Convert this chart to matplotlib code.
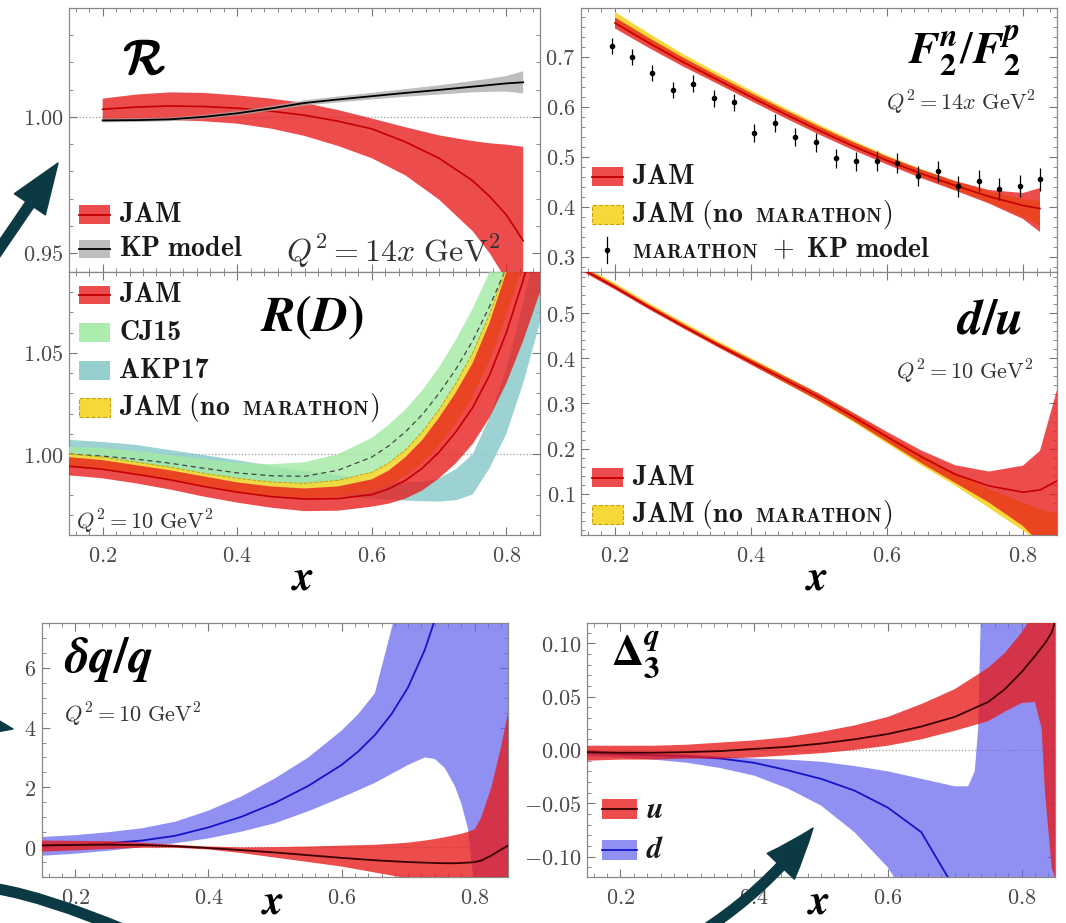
import matplotlib
matplotlib.use("Agg")
import matplotlib.pyplot as plt
import matplotlib.patheffects as pe
from matplotlib.ticker import MultipleLocator, FormatStrFormatter
from matplotlib.patches import Rectangle, FancyArrowPatch, PathPatch
from matplotlib.path import Path
from matplotlib.lines import Line2D
from matplotlib.offsetbox import AnchoredOffsetbox, HPacker, TextArea, DrawingArea

plt.rcParams["mathtext.fontset"] = "cm"
plt.rcParams["font.family"] = ["DejaVu Serif"]

# ---------------- data ----------------
# R : nuclear ratio, Q^2 = 14x GeV^2
x_R = [0.20, 0.25, 0.30, 0.35, 0.40, 0.45, 0.50, 0.55, 0.60, 0.65, 0.70, 0.75, 0.775, 0.80, 0.825]
R_jam_mid = [1.0028, 1.0036, 1.0040, 1.0038, 1.0032, 1.0021, 1.0006, 0.9984, 0.9956, 0.9908, 0.9848, 0.9765, 0.9708, 0.9640, 0.9545]
R_jam_hi = [1.0067, 1.0082, 1.0090, 1.0088, 1.0079, 1.0067, 1.0051, 1.0025, 0.9994, 0.9962, 0.9932, 0.9911, 0.9903, 0.9898, 0.9890]
R_jam_lo = [0.9982, 0.9987, 0.9988, 0.9984, 0.9975, 0.9957, 0.9930, 0.9893, 0.9848, 0.9785, 0.9696, 0.9580, 0.9500, 0.9400, 0.9250]
R_kp_mid = [0.9987, 0.9988, 0.9991, 1.0000, 1.0013, 1.0031, 1.0051, 1.0064, 1.0076, 1.0088, 1.0099, 1.0111, 1.0117, 1.0123, 1.0127]
R_kp_hi = [0.9994, 0.9995, 0.9998, 1.0007, 1.0021, 1.0040, 1.0061, 1.0075, 1.0088, 1.0102, 1.0116, 1.0132, 1.0140, 1.0150, 1.0168]
R_kp_lo = [0.9980, 0.9981, 0.9984, 0.9993, 1.0005, 1.0022, 1.0041, 1.0053, 1.0064, 1.0074, 1.0082, 1.0090, 1.0092, 1.0093, 1.0086]

# F2n / F2p, Q^2 = 14x GeV^2
x_F2 = [0.20, 0.25, 0.30, 0.35, 0.40, 0.45, 0.50, 0.55, 0.60, 0.65, 0.70, 0.75, 0.80, 0.825]
F2_jam_mid = [0.768, 0.728, 0.690, 0.655, 0.620, 0.586, 0.553, 0.522, 0.493, 0.467, 0.443, 0.421, 0.403, 0.397]
F2_jam_hi = [0.779, 0.738, 0.699, 0.663, 0.628, 0.594, 0.561, 0.530, 0.501, 0.475, 0.452, 0.434, 0.428, 0.438]
F2_jam_lo = [0.757, 0.718, 0.681, 0.647, 0.612, 0.578, 0.545, 0.514, 0.485, 0.458, 0.433, 0.407, 0.376, 0.350]
F2_nom_hi = [0.790, 0.747, 0.706, 0.669, 0.633, 0.598, 0.565, 0.533, 0.503, 0.476, 0.452, 0.431, 0.416, 0.412]
F2_nom_lo = [0.764, 0.724, 0.686, 0.651, 0.617, 0.583, 0.550, 0.519, 0.489, 0.461, 0.435, 0.409, 0.380, 0.362]
x_mar = [0.195, 0.225, 0.255, 0.285, 0.315, 0.345, 0.375, 0.405, 0.435, 0.465, 0.495,
         0.525, 0.555, 0.585, 0.615, 0.645, 0.675, 0.705, 0.735, 0.765, 0.795, 0.825]
F2_mar = [0.722, 0.700, 0.667, 0.633, 0.646, 0.617, 0.609, 0.548, 0.567, 0.540, 0.529,
          0.497, 0.491, 0.491, 0.488, 0.461, 0.471, 0.441, 0.452, 0.436, 0.441, 0.455]
F2_mar_err = [0.016, 0.016, 0.016, 0.016, 0.017, 0.017, 0.017, 0.018, 0.018, 0.018, 0.019,
              0.019, 0.019, 0.020, 0.020, 0.020, 0.021, 0.021, 0.021, 0.022, 0.022, 0.023]

# R(D), Q^2 = 10 GeV^2
x_RD = [0.15, 0.20, 0.25, 0.30, 0.35, 0.40, 0.45, 0.50, 0.55, 0.60, 0.625, 0.65, 0.675, 0.70, 0.725, 0.75, 0.775, 0.80, 0.825, 0.85]
RD_jam_mid = [0.9940, 0.9925, 0.9900, 0.9873, 0.9840, 0.9812, 0.9790, 0.9778, 0.9780, 0.9800, 0.9828, 0.9870, 0.9930, 1.0010, 1.0110, 1.0230, 1.0390, 1.0600, 1.0860, 1.1150]
RD_jam_hi = [0.9985, 0.9970, 0.9945, 0.9920, 0.9890, 0.9860, 0.9840, 0.9830, 0.9840, 0.9875, 0.9918, 0.9985, 1.0070, 1.0180, 1.0305, 1.0450, 1.0650, 1.0900, 1.1180, 1.1500]
RD_jam_lo = [0.9895, 0.9880, 0.9855, 0.9825, 0.9790, 0.9760, 0.9735, 0.9718, 0.9720, 0.9740, 0.9755, 0.9780, 0.9820, 0.9880, 0.9955, 1.0050, 1.0180, 1.0350, 1.0560, 1.0800]
RD_nom_hi = [1.0000, 0.9985, 0.9960, 0.9935, 0.9905, 0.9880, 0.9862, 0.9855, 0.9870, 0.9910, 0.9955, 1.0020, 1.0110, 1.0220, 1.0350, 1.0500, 1.0690, 1.0920, 1.1200, 1.1500]
RD_nom_lo = [0.9940, 0.9930, 0.9900, 0.9875, 0.9845, 0.9815, 0.9795, 0.9785, 0.9790, 0.9815, 0.9845, 0.9890, 0.9955, 1.0040, 1.0150, 1.0280, 1.0460, 1.0680, 1.0930, 1.1200]
RD_cj_mid = [1.0000, 0.9990, 0.9975, 0.9955, 0.9930, 0.9907, 0.9893, 0.9890, 0.9920, 0.9985, 1.0040, 1.0110, 1.0195, 1.0300, 1.0420, 1.0560, 1.0730, 1.0920, 1.1150, 1.1400]
RD_cj_hi = [1.0035, 1.0030, 1.0015, 0.9995, 0.9975, 0.9957, 0.9950, 0.9960, 1.0000, 1.0080, 1.0145, 1.0220, 1.0315, 1.0430, 1.0565, 1.0720, 1.0900, 1.1100, 1.1340, 1.1600]
RD_cj_lo = [0.9965, 0.9950, 0.9935, 0.9910, 0.9885, 0.9857, 0.9837, 0.9823, 0.9840, 0.9890, 0.9940, 1.0000, 1.0080, 1.0170, 1.0280, 1.0400, 1.0560, 1.0740, 1.0960, 1.1200]
RD_akp_hi = [1.0070, 1.0060, 1.0045, 1.0020, 0.9995, 0.9970, 0.9942, 0.9918, 0.9895, 0.9875, 0.9866, 0.9860, 0.9862, 0.9880, 0.9925, 1.0000, 1.0180, 1.0420, 1.0750, 1.1100]
RD_akp_lo = [0.9955, 0.9950, 0.9935, 0.9918, 0.9895, 0.9868, 0.9840, 0.9815, 0.9795, 0.9780, 0.9775, 0.9770, 0.9767, 0.9765, 0.9772, 0.9800, 0.9930, 1.0100, 1.0350, 1.0650]

# d/u, Q^2 = 10 GeV^2
x_du = [0.15, 0.20, 0.25, 0.30, 0.35, 0.40, 0.45, 0.50, 0.55, 0.60, 0.65, 0.70, 0.75, 0.80, 0.825, 0.85]
du_jam_mid = [0.600, 0.558, 0.514, 0.472, 0.431, 0.392, 0.353, 0.314, 0.271, 0.226, 0.182, 0.143, 0.117, 0.103, 0.108, 0.128]
du_jam_hi = [0.605, 0.563, 0.519, 0.477, 0.436, 0.398, 0.360, 0.322, 0.280, 0.237, 0.196, 0.163, 0.149, 0.162, 0.195, 0.330]
du_jam_lo = [0.595, 0.553, 0.509, 0.467, 0.426, 0.386, 0.346, 0.306, 0.262, 0.215, 0.168, 0.124, 0.080, 0.028, -0.010, -0.040]
du_nom_hi = [0.609, 0.567, 0.523, 0.481, 0.440, 0.401, 0.362, 0.322, 0.278, 0.232, 0.188, 0.146, 0.110, 0.080, 0.066, 0.055]
du_nom_lo = [0.597, 0.555, 0.511, 0.468, 0.427, 0.387, 0.346, 0.304, 0.259, 0.211, 0.163, 0.118, 0.068, 0.018, -0.010, -0.040]

# delta q / q, Q^2 = 10 GeV^2
x_dq = [0.15, 0.20, 0.25, 0.30, 0.35, 0.40, 0.45, 0.50, 0.55, 0.60, 0.625, 0.65, 0.675, 0.70,
        0.725, 0.74, 0.755, 0.77, 0.78, 0.79, 0.80, 0.81, 0.825, 0.84, 0.85]
dq_d_mid = [0.05, 0.08, 0.13, 0.22, 0.38, 0.66, 1.02, 1.48, 2.05, 2.75, 3.2, 3.75, 4.45, 5.35,
            6.6, 7.6, 8.7, 10.0, 11.0, 12.0, 13.0, 14.0, 15.5, 17.0, 18.0]
dq_d_hi = [0.34, 0.40, 0.50, 0.63, 0.85, 1.22, 1.70, 2.30, 3.00, 3.90, 4.45, 5.15, 7.3, 9.5,
           11.0, 12.5, 14.0, 15.0, 16.0, 17.0, 18.0, 19.0, 21.0, 23.0, 25.0]
dq_d_lo = [-0.29, -0.22, -0.12, 0.0, 0.13, 0.29, 0.52, 0.80, 1.20, 1.66, 1.90, 2.15, 2.45, 2.75,
           3.00, 2.95, 2.65, 2.05, 1.45, 0.60, -1.5, -2.0, -2.5, -3.0, -3.0]
dq_u_mid = [0.06, 0.07, 0.08, 0.07, 0.03, -0.03, -0.10, -0.18, -0.27, -0.36, -0.40, -0.44, -0.47, -0.50,
            -0.52, -0.53, -0.54, -0.54, -0.53, -0.52, -0.50, -0.45, -0.28, -0.08, 0.05]
dq_u_hi = [0.22, 0.21, 0.20, 0.15, 0.08, 0.02, -0.01, 0.00, 0.02, 0.05, 0.065, 0.08, 0.11, 0.15,
           0.22, 0.27, 0.33, 0.40, 0.45, 0.51, 0.60, 1.0, 2.0, 3.4, 4.5]
dq_u_lo = [-0.15, -0.11, -0.06, -0.02, -0.02, -0.08, -0.20, -0.35, -0.50, -0.65, -0.75, -0.85, -0.95, -1.05,
           -1.2, -1.3, -1.4, -1.6, -1.7, -1.8, -2.0, -2.1, -2.5, -2.8, -3.0]

# Delta_3^q
x_D3u = [0.15, 0.20, 0.25, 0.30, 0.35, 0.40, 0.45, 0.50, 0.55, 0.60, 0.65, 0.70, 0.75, 0.775, 0.80, 0.82, 0.83, 0.835, 0.845, 0.85]
D3_u_mid = [-0.002, -0.0025, -0.0025, -0.002, -0.001, 0.001, 0.003, 0.006, 0.010, 0.015, 0.022, 0.031, 0.045, 0.057, 0.073, 0.088, 0.096, 0.100, 0.110, 0.120]
D3_u_hi = [0.004, 0.004, 0.004, 0.005, 0.007, 0.009, 0.012, 0.017, 0.023, 0.031, 0.043, 0.057, 0.077, 0.091, 0.110, 0.130, 0.140, 0.150, 0.160, 0.170]
D3_u_lo = [-0.010, -0.009, -0.009, -0.008, -0.008, -0.007, -0.005, -0.003, 0.000, 0.004, 0.010, 0.018, 0.027, 0.036, 0.044, 0.045, 0.020, -0.040, -0.110, -0.120]
x_D3d = [0.15, 0.20, 0.25, 0.30, 0.35, 0.40, 0.45, 0.50, 0.55, 0.60, 0.65, 0.70, 0.72, 0.73, 0.735, 0.74, 0.80, 0.85]
D3_d_mid = [-0.003, -0.004, -0.005, -0.006, -0.008, -0.012, -0.019, -0.027, -0.038, -0.054, -0.077, -0.130, -0.160, -0.175, -0.185, -0.190, -0.250, -0.300]
D3_d_hi = [-0.001, -0.002, -0.003, -0.004, -0.006, -0.008, -0.009, -0.011, -0.015, -0.020, -0.027, -0.034, -0.034, -0.020, 0.020, 0.150, 0.200, 0.200]
D3_d_lo = [-0.006, -0.007, -0.009, -0.012, -0.017, -0.024, -0.036, -0.052, -0.077, -0.110, -0.160, -0.200, -0.220, -0.230, -0.230, -0.240, -0.300, -0.350]

# ---------------- style ----------------
RED, RED_A, RED_LINE = "#e81a1a", 0.78, "#c40000"
YEL, YEL_EDGE = "#f6d83a", "#c9a200"
GREEN = "#a3eaa3"
TEAL = "#8ccaca"
GRAY = "#a8a8a8"
BLUE, BLUE_A, BLUE_LINE = "#6666ee", 0.72, "#1414c8"
DARK_LINE = "#3a0000"
TEXT = "#1a1a1a"
TICK_TXT = "#4a4a4a"
ARROW = "#0b3a44"

W, H = 1066, 923
fig = plt.figure(figsize=(W / 100, H / 100), dpi=100)


def add_axes_px(left, top, right, bottom):
    return fig.add_axes([left / W, 1 - bottom / H, (right - left) / W, (bottom - top) / H])


def style(ax, ylim, ymaj, ymin, yfmt, xlabels=True):
    ax.set_xlim(0.15, 0.85)
    ax.set_ylim(*ylim)
    ax.xaxis.set_major_locator(MultipleLocator(0.2))
    ax.xaxis.set_minor_locator(MultipleLocator(0.02))
    ax.yaxis.set_major_locator(MultipleLocator(ymaj))
    ax.yaxis.set_minor_locator(MultipleLocator(ymin))
    ax.tick_params(which="both", direction="in", top=True, right=True, color="#777777")
    ax.tick_params(which="major", length=6, width=0.8, labelsize=16, labelcolor=TICK_TXT, pad=4)
    ax.tick_params(which="minor", length=3, width=0.6)
    ax.tick_params(axis="x", which="major", pad=7)
    ax.xaxis.set_major_formatter(FormatStrFormatter(r"$%.1f$"))
    ax.yaxis.set_major_formatter(FormatStrFormatter(yfmt))
    if not xlabels:
        ax.tick_params(labelbottom=False)
    for s in ax.spines.values():
        s.set_color("#888888")
        s.set_linewidth(0.9)


def band(ax, x, lo, hi, color, alpha, z):
    ax.fill_between(x, lo, hi, facecolor=color, alpha=alpha, lw=0, zorder=z)


def ref_line(ax, y):
    ax.axhline(y, color="#9a9a9a", lw=0.9, ls=":", zorder=1)


def title(ax, x, y, s, size=36, ha="center"):
    ax.text(x, y, s, transform=ax.transAxes, fontsize=size, ha=ha, va="center",
            color="black", math_fontfamily="stix", zorder=20)


def qlabel(ax, x, y, s, size=16, ha="left"):
    ax.text(x, y, s, transform=ax.transAxes, fontsize=size, ha=ha, va="center",
            color="#333333", zorder=20)


def xlabel(ax, y):
    ax.text(0.496, y, r"$\mathbfit{x}$", transform=ax.transAxes, fontsize=30,
            ha="center", va="center", math_fontfamily="stix", color="black")


def band_handle(face, alpha, line=None, edge=None):
    def make(w, h):
        arts = [Rectangle((0, 0), w, h, facecolor=face, alpha=alpha,
                          edgecolor=edge if edge else "none", ls="--", lw=0.8)]
        if line:
            arts.append(Line2D([0, w], [h / 2, h / 2], color=line, lw=1.3))
        return arts
    return make


def err_handle(w, h):
    return [Line2D([w / 2, w / 2], [-3, h + 3], color="black", lw=0.9),
            Line2D([w / 2], [h / 2], marker="o", ms=3, color="black", lw=0)]


def legend_row(ax, x, y, handle, parts, w=22, h=13, gap=7):
    da = DrawingArea(w, h, 0, 0)
    for art in handle(w, h):
        da.add_artist(art)
    texts = [TextArea(s, textprops=dict(fontsize=fs, color=TEXT, **kw)) for s, fs, kw in parts]
    label = HPacker(children=texts, align="baseline", pad=0, sep=0)
    row = HPacker(children=[da, label], align="center", pad=0, sep=gap)
    box = AnchoredOffsetbox(loc="center left", child=row, pad=0, borderpad=0, frameon=False,
                            bbox_to_anchor=(x / W, 1 - y / H), bbox_transform=fig.transFigure)
    ax.add_artist(box)


LBL = 20
SC = 14.5
BOLD_CM = dict(fontfamily="cmb10")
NOM_PARTS = [(r"$\mathbf{JAM\ (no}$", LBL, {}), (r"$\ \ \mathbf{MARATHON}$", SC, {}), (r"$\mathbf{)}$", LBL, {})]
jam_h = band_handle(RED, RED_A, RED_LINE)
nom_h = band_handle(YEL, 1.0, None, YEL_EDGE)

# ---------------- panel: R ----------------
ax1 = add_axes_px(69, 8, 540, 272)
style(ax1, (0.943, 1.040), 0.05, 0.01, r"$%.2f$", xlabels=False)
ref_line(ax1, 1.0)
band(ax1, x_R, R_jam_lo, R_jam_hi, RED, RED_A, 2)
ax1.plot(x_R, R_jam_mid, color=RED_LINE, lw=1.2, zorder=3)
band(ax1, x_R, R_kp_lo, R_kp_hi, GRAY, 0.75, 4)
ax1.plot(x_R, R_kp_mid, color="black", lw=1.3, zorder=5)
t = ax1.text(0.161, 0.80, r"$\mathcal{R}$", transform=ax1.transAxes, fontsize=34,
             ha="center", va="center", color="black")
t.set_path_effects([pe.withStroke(linewidth=1.6, foreground="black")])
qlabel(ax1, 0.461, 0.08, r"$Q^2 = 14x\ \mathrm{GeV}^2$", size=23)
legend_row(ax1, 79, 214.5, jam_h, [(r"$\mathbf{JAM}$", LBL, {})])
legend_row(ax1, 79, 249, band_handle(GRAY, 0.75, "black"), [(r"$\mathbf{KP\ model}$", LBL, {})])

# ---------------- panel: F2n/F2p ----------------
ax2 = add_axes_px(581, 8, 1057, 272)
style(ax2, (0.27, 0.798), 0.1, 0.02, r"$%.1f$", xlabels=False)
band(ax2, x_F2, F2_nom_lo, F2_nom_hi, YEL, 1.0, 2)
band(ax2, x_F2, F2_jam_lo, F2_jam_hi, RED, RED_A, 3)
ax2.plot(x_F2, F2_jam_mid, color=RED_LINE, lw=1.2, zorder=4)
ax2.errorbar(x_mar, F2_mar, yerr=F2_mar_err, fmt="o", ms=3, color="black",
             elinewidth=0.9, capsize=0, zorder=6)
title(ax2, 0.805, 0.836, r"$\mathbfit{F}_{\mathbf{2}}^{\mathbfit{n}}/\mathbfit{F}_{\mathbf{2}}^{\mathbfit{p}}$", size=33)
qlabel(ax2, 0.956, 0.639, r"$Q^2 = 14x\ \mathrm{GeV}^2$", ha="right")
legend_row(ax2, 592, 176.5, jam_h, [(r"$\mathbf{JAM}$", LBL, {})])
legend_row(ax2, 592, 214.5, nom_h, NOM_PARTS)
legend_row(ax2, 592, 250, err_handle,
           [(r"$\mathbf{MARATHON}$", SC, {}), (r"$\ +\ \mathbf{KP\ model}$", LBL, {})])

# ---------------- panel: R(D) ----------------
ax3 = add_axes_px(69, 272, 540, 535)
style(ax3, (0.96, 1.09), 0.05, 0.01, r"$%.2f$")
ref_line(ax3, 1.0)
band(ax3, x_RD, RD_akp_lo, RD_akp_hi, TEAL, 0.85, 2)
band(ax3, x_RD, RD_cj_lo, RD_cj_hi, GREEN, 0.8, 3)
ax3.plot(x_RD, RD_cj_mid, color="#444444", lw=0.9, ls=(0, (4, 3)), zorder=3.5)
band(ax3, x_RD, RD_nom_lo, RD_nom_hi, YEL, 0.9, 4)
ax3.plot(x_RD, RD_nom_hi, color=YEL_EDGE, lw=0.7, ls="--", zorder=4.2)
band(ax3, x_RD, RD_jam_lo, RD_jam_hi, RED, RED_A, 5)
ax3.plot(x_RD, RD_jam_mid, color=RED_LINE, lw=1.2, zorder=6)
title(ax3, 0.516, 0.825, r"$\mathbfit{R}\mathbf{(}\mathbfit{D}\mathbf{)}$")
qlabel(ax3, 0.015, 0.05, r"$Q^2 = 10\ \mathrm{GeV}^2$")
xlabel(ax3, -0.16)
legend_row(ax3, 79, 295, jam_h, [(r"$\mathbf{JAM}$", LBL, {})])
legend_row(ax3, 79, 332.5, band_handle(GREEN, 0.9), [("CJ15", LBL, BOLD_CM)])
legend_row(ax3, 79, 370.5, band_handle(TEAL, 0.9), [("AKP17", LBL, BOLD_CM)])
legend_row(ax3, 79, 407.5, nom_h, NOM_PARTS)

# ---------------- panel: d/u ----------------
ax4 = add_axes_px(581, 272, 1057, 535)
style(ax4, (0.008, 0.592), 0.1, 0.02, r"$%.1f$")
band(ax4, x_du, du_nom_lo, du_nom_hi, YEL, 1.0, 2)
band(ax4, x_du, du_jam_lo, du_jam_hi, RED, RED_A, 3)
ax4.plot(x_du, du_jam_mid, color=RED_LINE, lw=1.2, zorder=4)
title(ax4, 0.857, 0.817, r"$\mathbfit{d}\mathbf{/}\mathbfit{u}$")
qlabel(ax4, 0.95, 0.62, r"$Q^2 = 10\ \mathrm{GeV}^2$", ha="right")
xlabel(ax4, -0.16)
legend_row(ax4, 592, 477.5, jam_h, [(r"$\mathbf{JAM}$", LBL, {})])
legend_row(ax4, 592, 514.5, nom_h, NOM_PARTS)

# ---------------- panel: delta q / q ----------------
ax5 = add_axes_px(42, 623, 508, 877)
style(ax5, (-1.0, 7.5), 2, 0.5, r"$%d$")
ref_line(ax5, 0.0)
band(ax5, x_dq, dq_d_lo, dq_d_hi, BLUE, BLUE_A, 2)
ax5.plot(x_dq, dq_d_mid, color=BLUE_LINE, lw=1.3, zorder=3)
band(ax5, x_dq, dq_u_lo, dq_u_hi, RED, RED_A, 4)
ax5.plot(x_dq, dq_u_mid, color=DARK_LINE, lw=1.3, zorder=5)
title(ax5, 0.047, 0.858, r"$\mathbfit{\delta q}\mathbf{/}\mathbfit{q}$", ha="left")
qlabel(ax5, 0.047, 0.638, r"$Q^2 = 10\ \mathrm{GeV}^2$")
xlabel(ax5, -0.095)

# ---------------- panel: Delta_3^q ----------------
ax6 = add_axes_px(587, 623, 1055, 877)
style(ax6, (-0.119, 0.119), 0.05, 0.01, r"$%.2f$")
ref_line(ax6, 0.0)
band(ax6, x_D3d, D3_d_lo, D3_d_hi, BLUE, BLUE_A, 2)
ax6.plot(x_D3d, D3_d_mid, color=BLUE_LINE, lw=1.3, zorder=3)
band(ax6, x_D3u, D3_u_lo, D3_u_hi, RED, RED_A, 4)
ax6.plot(x_D3u, D3_u_mid, color=DARK_LINE, lw=1.3, zorder=5)
title(ax6, 0.051, 0.874, r"$\mathbf{\Delta}_{\mathbf{3}}^{\mathbfit{q}}$", size=32, ha="left")
xlabel(ax6, -0.095)
legend_row(ax6, 602, 809, band_handle(RED, RED_A, DARK_LINE),
           [(r"$\mathbfit{u}$", 22, dict(math_fontfamily="stix"))], w=25, h=14.5)
legend_row(ax6, 602, 850, band_handle(BLUE, BLUE_A, BLUE_LINE),
           [(r"$\mathbfit{d}$", 22, dict(math_fontfamily="stix"))], w=25, h=14.5)

# ---------------- pointer arrows ----------------
def P(x, y):
    return (x / W, 1 - y / H)


arrow_style = "simple,head_length=36,head_width=27,tail_width=7"
for a, b, rad in [((-28, 289), (58, 163), 0.0),
                  ((-80, 712), (13, 729), 0.0),
                  ((688, 940), (813, 828), 0.1)]:
    fig.patches.append(FancyArrowPatch(P(*a), P(*b), arrowstyle=arrow_style, mutation_scale=1,
                                       connectionstyle=f"arc3,rad={rad}", shrinkA=0, shrinkB=0,
                                       color=ARROW, transform=fig.transFigure, zorder=30))

curve = Path([P(-2, 889), P(45, 897), P(125, 930)], [Path.MOVETO, Path.CURVE3, Path.CURVE3])
fig.patches.append(PathPatch(curve, facecolor="none", edgecolor=ARROW, lw=8,
                             transform=fig.transFigure, zorder=30, capstyle="butt"))

fig.savefig("out.png", dpi=100)
